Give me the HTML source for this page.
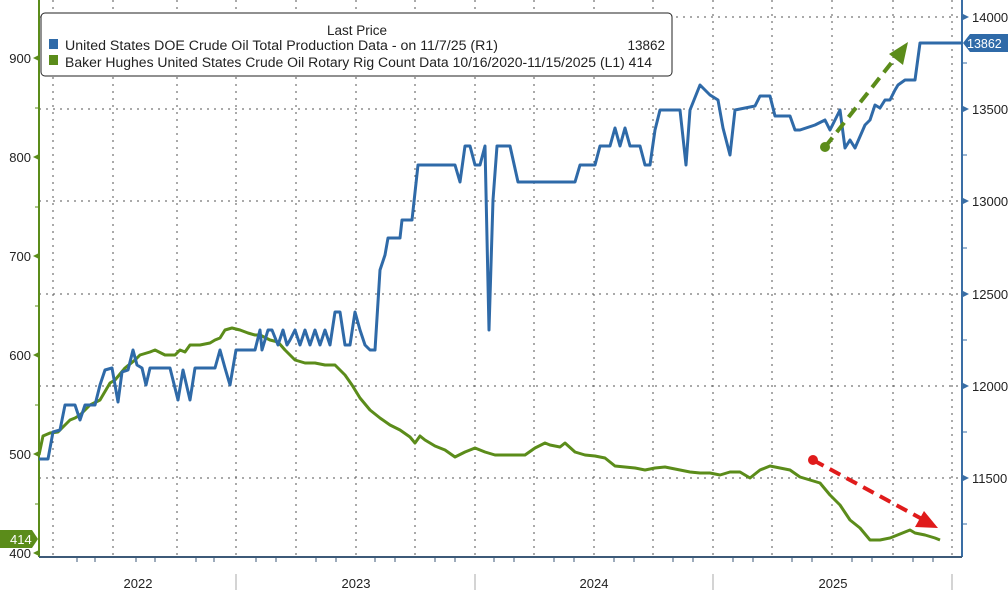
<!DOCTYPE html>
<html><head><meta charset="utf-8"><style>
body{margin:0;background:#fff;}
svg{display:block;font-family:"Liberation Sans","DejaVu Sans",sans-serif;}
</style></head><body>
<svg width="1008" height="590" xmlns="http://www.w3.org/2000/svg">
<rect width="1008" height="590" fill="#fff"/>
<g stroke="#555" stroke-width="1" stroke-dasharray="2,5">
<line x1="53" y1="0" x2="53" y2="557"/><line x1="113" y1="0" x2="113" y2="557"/><line x1="177" y1="0" x2="177" y2="557"/><line x1="236" y1="0" x2="236" y2="557"/><line x1="296" y1="0" x2="296" y2="557"/><line x1="356" y1="0" x2="356" y2="557"/><line x1="415" y1="0" x2="415" y2="557"/><line x1="475" y1="0" x2="475" y2="557"/><line x1="534" y1="0" x2="534" y2="557"/><line x1="594" y1="0" x2="594" y2="557"/><line x1="653" y1="0" x2="653" y2="557"/><line x1="713" y1="0" x2="713" y2="557"/><line x1="772" y1="0" x2="772" y2="557"/><line x1="832" y1="0" x2="832" y2="557"/><line x1="893" y1="0" x2="893" y2="557"/><line x1="952" y1="0" x2="952" y2="557"/>
<line x1="39" y1="17" x2="962" y2="17"/><line x1="39" y1="109" x2="962" y2="109"/><line x1="39" y1="201" x2="962" y2="201"/><line x1="39" y1="294" x2="962" y2="294"/><line x1="39" y1="386" x2="962" y2="386"/><line x1="39" y1="478" x2="962" y2="478"/>
</g>
<line x1="39" y1="0" x2="39" y2="557" stroke="#5b8c1a" stroke-width="2"/>
<line x1="962" y1="0" x2="962" y2="557" stroke="#3a6ea5" stroke-width="2"/>
<line x1="39" y1="557" x2="962" y2="557" stroke="#3d5a78" stroke-width="2"/>
<g stroke="#aaa" stroke-width="1">
<line x1="236" y1="574" x2="236" y2="590"/><line x1="475" y1="574" x2="475" y2="590"/><line x1="713" y1="574" x2="713" y2="590"/><line x1="952" y1="574" x2="952" y2="590"/>
</g>
<g stroke="#3d5a78"><line x1="77" y1="557" x2="77" y2="562"/><line x1="95" y1="557" x2="95" y2="562"/><line x1="136" y1="557" x2="136" y2="562"/><line x1="155" y1="557" x2="155" y2="562"/><line x1="196" y1="557" x2="196" y2="562"/><line x1="214" y1="557" x2="214" y2="562"/><line x1="256" y1="557" x2="256" y2="562"/><line x1="276" y1="557" x2="276" y2="562"/><line x1="316" y1="557" x2="316" y2="562"/><line x1="336" y1="557" x2="336" y2="562"/><line x1="375" y1="557" x2="375" y2="562"/><line x1="395" y1="557" x2="395" y2="562"/><line x1="435" y1="557" x2="435" y2="562"/><line x1="455" y1="557" x2="455" y2="562"/><line x1="494" y1="557" x2="494" y2="562"/><line x1="514" y1="557" x2="514" y2="562"/><line x1="554" y1="557" x2="554" y2="562"/><line x1="574" y1="557" x2="574" y2="562"/><line x1="614" y1="557" x2="614" y2="562"/><line x1="634" y1="557" x2="634" y2="562"/><line x1="673" y1="557" x2="673" y2="562"/><line x1="693" y1="557" x2="693" y2="562"/><line x1="733" y1="557" x2="733" y2="562"/><line x1="753" y1="557" x2="753" y2="562"/><line x1="792" y1="557" x2="792" y2="562"/><line x1="812" y1="557" x2="812" y2="562"/><line x1="852" y1="557" x2="852" y2="562"/><line x1="872" y1="557" x2="872" y2="562"/><line x1="913" y1="557" x2="913" y2="562"/><line x1="933" y1="557" x2="933" y2="562"/></g>
<g font-size="13" fill="#222" text-anchor="middle"><text x="138" y="588">2022</text><text x="356" y="588">2023</text><text x="594" y="588">2024</text><text x="833" y="588">2025</text></g>
<g font-size="13" fill="#222" text-anchor="end">
<text x="31" y="63">900</text><text x="31" y="162">800</text><text x="31" y="261">700</text><text x="31" y="360">600</text><text x="31" y="459">500</text><text x="31" y="558">400</text></g>
<g fill="#5b8c1a"><path d="M33,58 l6,-3 v6z"/><path d="M33,157 l6,-3 v6z"/><path d="M33,256 l6,-3 v6z"/><path d="M33,355 l6,-3 v6z"/><path d="M33,454 l6,-3 v6z"/><path d="M33,553 l6,-3 v6z"/></g>
<g stroke="#5b8c1a"><line x1="35" y1="108" x2="39" y2="108"/><line x1="35" y1="207" x2="39" y2="207"/><line x1="35" y1="306" x2="39" y2="306"/><line x1="35" y1="405" x2="39" y2="405"/><line x1="35" y1="504" x2="39" y2="504"/></g>
<g font-size="13" fill="#222"><text x="972" y="22">14000</text><text x="972" y="114">13500</text><text x="972" y="206">13000</text><text x="972" y="299">12500</text><text x="972" y="391">12000</text><text x="972" y="483">11500</text></g>
<g fill="#3a6ea5"><path d="M969,17 l-6,-3 v6z"/><path d="M969,109 l-6,-3 v6z"/><path d="M969,201 l-6,-3 v6z"/><path d="M969,294 l-6,-3 v6z"/><path d="M969,386 l-6,-3 v6z"/><path d="M969,478 l-6,-3 v6z"/></g>
<g stroke="#3a6ea5"><line x1="962" y1="63" x2="967" y2="63"/><line x1="962" y1="155" x2="967" y2="155"/><line x1="962" y1="248" x2="967" y2="248"/><line x1="962" y1="340" x2="967" y2="340"/><line x1="962" y1="432" x2="967" y2="432"/><line x1="962" y1="524" x2="967" y2="524"/></g>
<polyline fill="none" stroke="#5b8c1a" stroke-width="3" stroke-linejoin="round" points="39,455 43,436 50,433 58,432 62,428 65,425 70,420 75,418 80,415 90,405 100,400 110,383 115,380 125,368 135,360 140,355 150,352 155,350 165,355 175,355 180,350 185,352 190,345 200,345 210,343 215,340 220,338 225,330 232,328 240,330 248,333 255,335 260,335 270,340 278,342 285,350 295,360 305,363 315,363 325,365 335,365 345,375 352,385 360,398 370,410 380,418 390,425 400,430 410,437 415,443 420,436 425,440 435,446 445,450 455,457 465,452 475,448 485,452 495,455 505,455 515,455 525,455 535,448 545,443 550,445 560,447 565,443 575,452 585,455 595,456 605,458 615,466 625,467 635,468 645,470 655,468 665,467 680,470 690,472 700,473 710,473 720,475 730,472 740,472 750,478 760,470 770,466 780,468 790,470 800,477 810,480 820,483 830,495 840,505 850,520 860,528 870,540 880,540 890,538 900,534 910,530 915,533 925,535 935,538 940,540"/>
<polyline fill="none" stroke="#2f6aa8" stroke-width="3" stroke-linejoin="round" points="39,459 48,459 53,432 60,430 65,405 75,405 80,420 85,405 95,405 100,385 105,370 112,368 118,402 122,372 128,370 133,350 137,365 142,368 146,385 150,368 158,368 165,368 170,368 178,400 183,370 190,400 195,368 200,368 210,368 215,368 220,350 225,368 230,385 236,350 240,350 250,350 255,350 260,330 262,350 268,330 272,330 278,345 283,330 287,345 290,340 295,330 300,345 305,330 310,345 315,330 320,345 325,330 330,345 335,312 340,312 345,345 350,345 355,312 360,330 365,345 370,350 375,350 380,270 385,255 388,238 395,238 400,238 402,220 412,220 418,165 425,165 455,165 460,182 465,146 470,146 475,165 480,165 485,146 489,330 493,200 497,146 510,146 518,182 540,182 575,182 580,165 595,165 600,146 610,146 615,128 620,146 625,128 630,146 640,146 645,165 650,165 655,130 660,110 680,110 686,165 690,110 700,85 710,95 718,100 723,128 730,155 735,110 745,108 755,106 760,96 770,96 775,116 790,116 795,130 800,130 815,125 825,120 830,130 835,120 840,110 845,148 850,140 855,148 865,125 870,120 875,105 880,108 885,100 890,100 895,90 898,85 905,80 910,80 915,80 920,43 962,43"/>
<line x1="813" y1="460" x2="922" y2="519" stroke="#e01b1b" stroke-width="4" stroke-dasharray="12,7"/>
<circle cx="813" cy="460" r="5" fill="#e01b1b"/>
<path d="M938,528 l-23,-1 l9,-16z" fill="#e01b1b"/>
<line x1="825" y1="147" x2="896" y2="57" stroke="#5b8c1a" stroke-width="4" stroke-dasharray="12,7"/>
<circle cx="825" cy="147" r="5" fill="#5b8c1a"/>
<path d="M908,42 l-5,23 l-14,-11z" fill="#5b8c1a"/>
<path d="M963,43 l7,-9 h38 v18 h-38z" fill="#2f6aa8"/>
<text x="967" y="48" font-size="12.5" fill="#fff">13862</text>
<path d="M0,530 h32 l6,9 l-6,9 h-32z" fill="#5b8c1a"/>
<text x="10" y="544" font-size="13" fill="#fff">414</text>
<rect x="41" y="13" width="631" height="63" rx="4" fill="#fff" stroke="#222" stroke-width="1"/>
<text x="357" y="35" font-size="13.5" fill="#222" text-anchor="middle">Last Price</text>
<rect x="49" y="39" width="9" height="10" fill="#2f6aa8"/>
<rect x="49" y="55" width="9" height="10" fill="#5b8c1a"/>
<text x="65" y="50" font-size="13.5" fill="#222" textLength="433" lengthAdjust="spacingAndGlyphs">United States DOE Crude Oil Total Production Data -  on 11/7/25  (R1)</text>
<text x="665" y="50" font-size="13.5" fill="#222" text-anchor="end">13862</text>
<text x="65" y="67" font-size="13.5" fill="#222" textLength="587" lengthAdjust="spacingAndGlyphs">Baker Hughes United States Crude Oil Rotary Rig Count Data 10/16/2020-11/15/2025   (L1) 414</text>
</svg>
</body></html>
